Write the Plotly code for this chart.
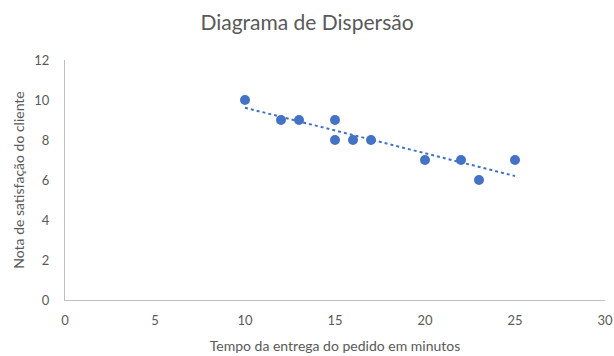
import numpy as np
import plotly.graph_objects as go

# Delivery time (minutes) vs. customer satisfaction score
tempo = [10, 12, 13, 15, 15, 16, 17, 20, 22, 23, 25]
nota = [10, 9, 9, 9, 8, 8, 8, 7, 7, 6, 7]

x_ticks = [0, 5, 10, 15, 20, 25, 30]
y_ticks = [0, 2, 4, 6, 8, 10, 12]

blue = "#4472C4"
gray_text = "#595959"
axis_gray = "#BFBFBF"
font_family = "Lato, 'Open Sans', sans-serif"

# Linear trendline fitted to the points
slope, intercept = np.polyfit(tempo, nota, 1)
trend_x = [min(tempo), max(tempo)]
trend_y = [slope * v + intercept for v in trend_x]

fig = go.Figure()
fig.add_trace(go.Scatter(
    x=trend_x, y=trend_y, mode="lines",
    line=dict(color=blue, width=2, dash="dot"),
    hoverinfo="skip", showlegend=False,
))
fig.add_trace(go.Scatter(
    x=tempo, y=nota, mode="markers",
    marker=dict(color=blue, size=10),
    showlegend=False,
))

fig.update_layout(
    width=614, height=356,
    margin=dict(l=65, r=9, t=60, b=56),
    paper_bgcolor="white", plot_bgcolor="white",
    font=dict(family=font_family, color=gray_text, size=13),
    title=dict(
        text="Diagrama de Dispersão",
        x=0.5, xanchor="center", y=0.935, yanchor="middle",
        font=dict(size=21, color=gray_text, family=font_family),
    ),
    xaxis=dict(
        range=[0, 30], tickvals=x_ticks, showgrid=False, zeroline=False,
        showline=True, linecolor=axis_gray, linewidth=1,
        ticks="", ticklabelstandoff=8, automargin=False,
        title=dict(text="Tempo da entrega do pedido em minutos",
                   font=dict(size=14, color=gray_text), standoff=14),
    ),
    yaxis=dict(
        range=[0, 12], tickvals=y_ticks, showgrid=False, zeroline=False,
        showline=True, linecolor=axis_gray, linewidth=1,
        ticks="", ticklabelstandoff=12, automargin=False,
        title=dict(text="Nota de satisfação do cliente",
                   font=dict(size=14, color=gray_text), standoff=6),
    ),
)

fig.write_html("out.html")
